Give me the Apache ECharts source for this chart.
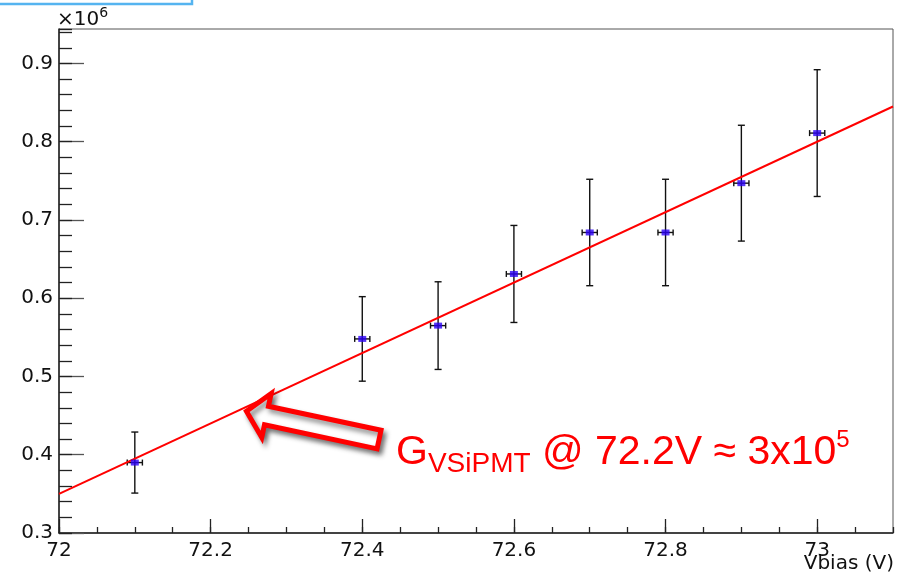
<!DOCTYPE html>
<html>
<head>
<meta charset="utf-8">
<title>VSiPMT gain vs bias voltage</title>
<script src="https://cdn.jsdelivr.net/npm/echarts@6/dist/echarts.min.js"></script>
<style>
  html, body { margin: 0; padding: 0; background: #ffffff; }
  #chart { width: 901px; height: 578px; }
</style>
</head>
<body>
<div id="chart"></div>
<script>
// Measured gain (in units of 1e6) versus bias voltage
const vbias    = [72.1, 72.4, 72.5, 72.6, 72.7, 72.8, 72.9, 73.0];
const gain     = [0.390, 0.548, 0.565, 0.631, 0.684, 0.684, 0.747, 0.811];
const gainErr  = [0.039, 0.054, 0.056, 0.062, 0.068, 0.068, 0.074, 0.081];
const vbiasErr = [0.01, 0.01, 0.01, 0.01, 0.01, 0.01, 0.01, 0.01];

// Linear fit drawn over the full axis range
const fitX = [72.0, 73.1];
const fitY = [0.350, 0.845];

// Tick labels
const xTickLabels = ['72', '72.2', '72.4', '72.6', '72.8', '73'];
const yTickLabels = ['0.3', '0.4', '0.5', '0.6', '0.7', '0.8', '0.9'];
const xTitle = 'Vbias (V)';

const axisFont = 'DejaVu Sans';
const labelFor = (list) => (v) => {
  const hit = list.find((s) => Math.abs(parseFloat(s) - v) < 1e-6);
  return hit === undefined ? '' : hit;
};

const chart = echarts.init(document.getElementById('chart'), null, { renderer: 'canvas' });

const errorData = vbias.map((v, i) => [v, gain[i], gainErr[i], vbiasErr[i]]);
const pointData = vbias.map((v, i) => [v, gain[i]]);
const fitData = fitX.map((v, i) => [v, fitY[i]]);

// Hollow block arrow pointing at the fit line
function arrowPoints() {
  const tip = [243, 410.5];
  const tail = [381, 440];
  const dx = tail[0] - tip[0], dy = tail[1] - tip[1];
  const len = Math.hypot(dx, dy);
  const u = [dx / len, dy / len];
  const n = [-u[1], u[0]];
  const local = [
    [3.5, 0], [24, -22.5], [24, -9.5], [len - 2, -9.5],
    [len - 2, 9.5], [24, 9.5], [24, 22.5]
  ];
  return local.map(([a, b]) => [tip[0] + a * u[0] + b * n[0], tip[1] + a * u[1] + b * n[1]]);
}

const option = {
  backgroundColor: '#ffffff',
  animation: false,
  grid: {
    left: 59, right: 8, top: 29, bottom: 45,
    show: true, borderColor: '#555555', borderWidth: 1,
    containLabel: false, outerBoundsMode: 'none'
  },
  xAxis: [
    {
      type: 'value', min: 72, max: 73.1, interval: 0.2,
      axisLine: { show: true, onZero: false, lineStyle: { color: '#222', width: 1.5 } },
      axisTick: { show: true, inside: true, length: 14, lineStyle: { color: '#222', width: 1.3 } },
      axisLabel: {
        show: true, margin: 8, fontFamily: axisFont, fontSize: 20, color: '#111',
        formatter: labelFor(xTickLabels), showMaxLabel: false
      },
      splitLine: { show: false }
    },
    {
      // minor ticks every 0.05 V
      type: 'value', min: 72, max: 73.1, interval: 0.05, position: 'bottom',
      axisLine: { show: false },
      axisTick: { show: true, inside: true, length: 6, lineStyle: { color: '#222', width: 1.3 } },
      axisLabel: { show: false },
      splitLine: { show: false }
    }
  ],
  yAxis: [
    {
      type: 'value', min: 0.3, max: 0.944, interval: 0.1,
      axisLine: { show: true, onZero: false, lineStyle: { color: '#222', width: 1.5 } },
      axisTick: { show: true, inside: true, length: 25, lineStyle: { color: '#555', width: 1.3 } },
      axisLabel: {
        show: true, margin: 6, fontFamily: axisFont, fontSize: 20, color: '#111',
        formatter: labelFor(yTickLabels), showMaxLabel: false
      },
      splitLine: { show: false }
    },
    {
      // minor ticks every 0.02
      type: 'value', min: 0.3, max: 0.944, interval: 0.02, position: 'left',
      axisLine: { show: false },
      axisTick: { show: true, inside: true, length: 13, lineStyle: { color: '#222', width: 1.3 } },
      axisLabel: { show: false },
      splitLine: { show: false }
    }
  ],
  series: [
    {
      name: 'errors', type: 'custom', xAxisIndex: 0, yAxisIndex: 0, z: 3,
      data: errorData,
      encode: { x: 0, y: 1 },
      renderItem: function (params, api) {
        const x = api.value(0), y = api.value(1), ey = api.value(2), ex = api.value(3);
        const c = api.coord([x, y]);
        const top = api.coord([x, y + ey]);
        const bot = api.coord([x, y - ey]);
        const lft = api.coord([x - ex, y]);
        const rgt = api.coord([x + ex, y]);
        const cap = 3.5;
        const style = { stroke: '#111111', lineWidth: 1.4, fill: null };
        const seg = (x1, y1, x2, y2) => ({ type: 'line', shape: { x1, y1, x2, y2 }, style });
        return {
          type: 'group',
          children: [
            seg(c[0], top[1], c[0], bot[1]),
            seg(c[0] - cap, top[1], c[0] + cap, top[1]),
            seg(c[0] - cap, bot[1], c[0] + cap, bot[1]),
            seg(lft[0], c[1], rgt[0], c[1]),
            seg(lft[0], c[1] - 3, lft[0], c[1] + 3),
            seg(rgt[0], c[1] - 3, rgt[0], c[1] + 3)
          ]
        };
      }
    },
    {
      name: 'fit', type: 'line', xAxisIndex: 0, yAxisIndex: 0, z: 4,
      data: fitData, showSymbol: false, symbol: 'none',
      lineStyle: { color: '#ff0000', width: 2 }
    },
    {
      name: 'gain', type: 'scatter', xAxisIndex: 0, yAxisIndex: 0, z: 5,
      data: pointData, symbol: 'rect', symbolSize: [8, 6],
      itemStyle: { color: '#2b00f5' }
    }
  ],
  graphic: [
    {
      type: 'rect', z: 10,
      shape: { x: -6, y: -6, width: 198, height: 10 },
      style: { fill: null, stroke: '#55b4f0', lineWidth: 2.5 }
    },
    {
      type: 'text', z: 10,
      style: {
        x: 57, y: 30, align: 'left', verticalAlign: 'bottom',
        text: '{m|×10}{s|6}',
        rich: {
          m: { fontFamily: axisFont, fontSize: 20, fill: '#111', lineHeight: 24, verticalAlign: 'bottom' },
          s: { fontFamily: axisFont, fontSize: 14, fill: '#111', lineHeight: 22, verticalAlign: 'top' }
        }
      }
    },
    {
      type: 'text', z: 10,
      style: {
        x: 894, y: 554, align: 'right', verticalAlign: 'top',
        text: xTitle, fontFamily: axisFont, fontSize: 20, fill: '#111'
      }
    },
    {
      type: 'polygon', z: 20,
      shape: { points: arrowPoints() },
      style: {
        fill: '#ffffff', stroke: '#ff0000', lineWidth: 5, lineJoin: 'miter',
        shadowBlur: 5, shadowOffsetX: 3, shadowOffsetY: 4, shadowColor: 'rgba(0,0,0,0.45)'
      }
    },
    {
      type: 'text', z: 20,
      style: {
        x: 396, y: 428, align: 'left', verticalAlign: 'top',
        text: '{g|G}{sub|VSiPMT}{main| @ 72.2V ≈ 3x10}{sup|5}',
        fill: '#ff0000',
        rich: {
          g:    { fontFamily: 'Liberation Sans', fontSize: 41, lineHeight: 50, fill: '#ff0000' },
          sub:  { fontFamily: 'Liberation Sans', fontSize: 28, lineHeight: 25, fill: '#ff0000', verticalAlign: 'bottom' },
          main: { fontFamily: 'Liberation Sans', fontSize: 41, lineHeight: 50, fill: '#ff0000' },
          sup:  { fontFamily: 'Liberation Sans', fontSize: 24, lineHeight: 34, fill: '#ff0000', verticalAlign: 'top' }
        }
      }
    }
  ]
};

chart.setOption(option);
</script>
</body>
</html>
